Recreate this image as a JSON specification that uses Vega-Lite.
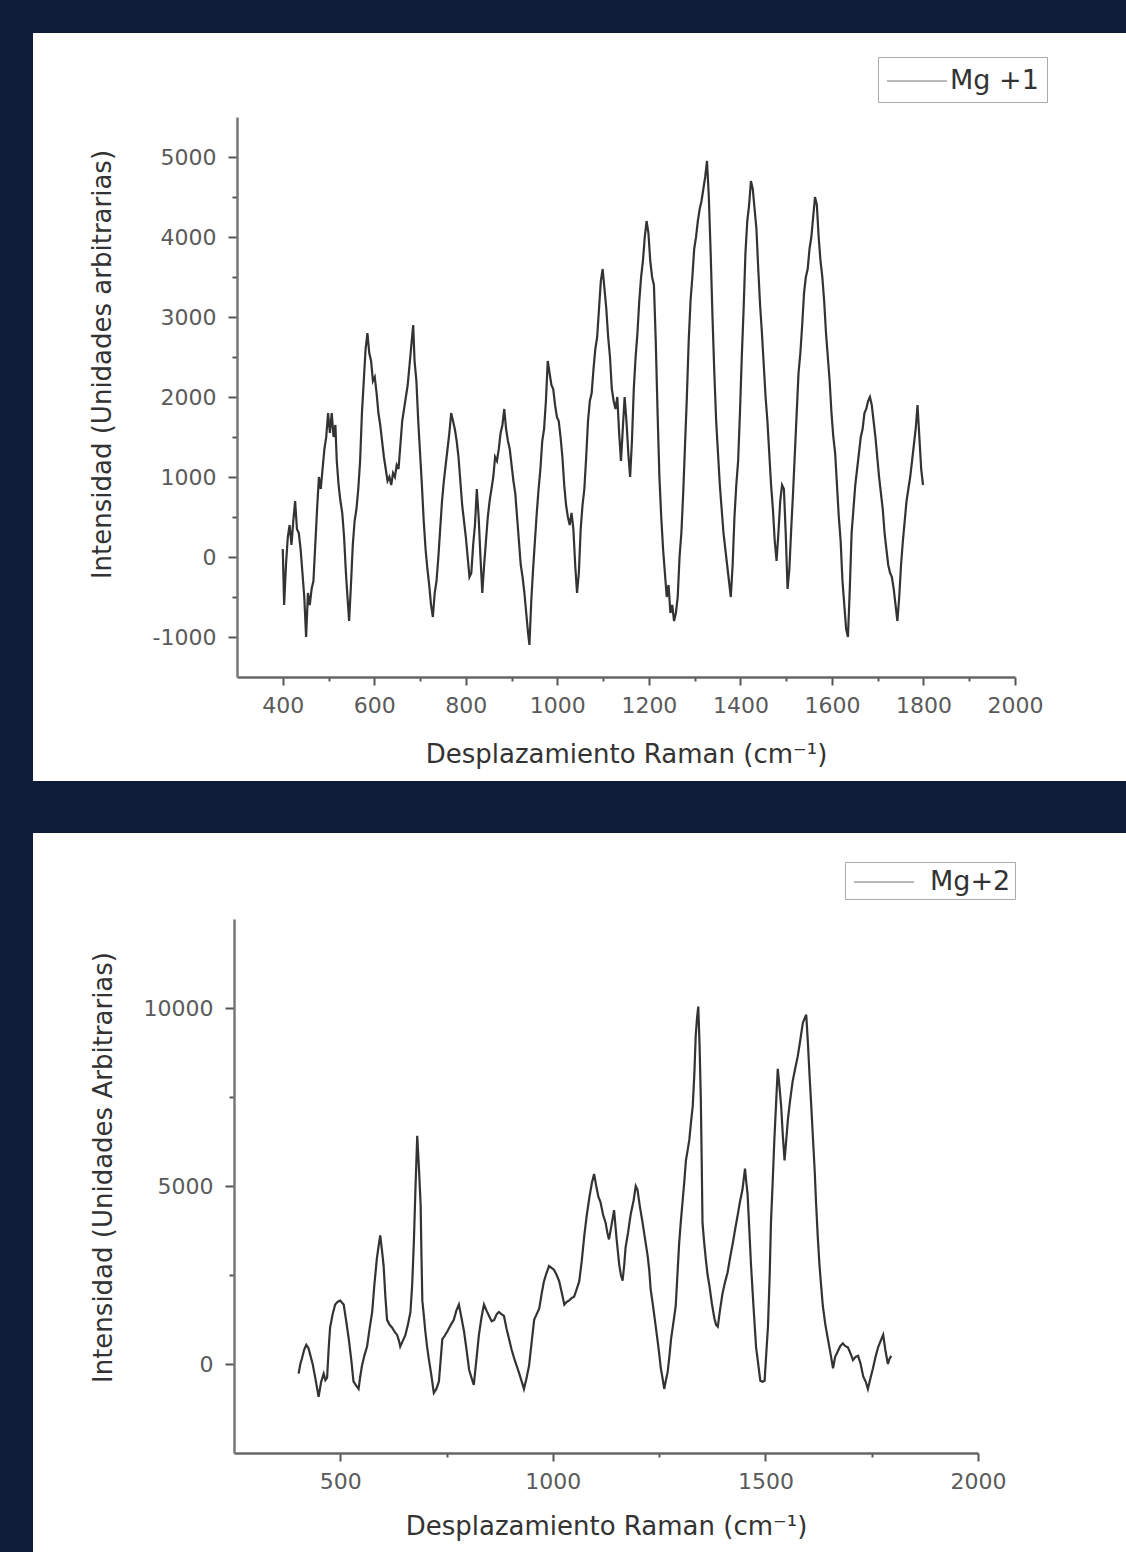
{
  "$schema": "https://vega.github.io/schema/vega-lite/v6.json",
  "background": "#0f1c39",
  "padding": {"left": 33, "top": 33, "right": 0, "bottom": 0},
  "spacing": 52,
  "config": {"view": {"stroke": null, "fill": "white"}, "font": "DejaVu Sans"},
  "resolve": {"scale": {"color": "independent"}},
  "datasets": {
    "mg1": [
      {"x":400,"y":100},{"x":403,"y":-600},{"x":407,"y":-100},{"x":411,"y":250},{"x":415,"y":400},{"x":419,"y":150},{"x":423,"y":450},{"x":427,"y":700},{"x":431,"y":350},{"x":435,"y":300},{"x":439,"y":100},{"x":443,"y":-200},{"x":447,"y":-500},{"x":451,"y":-1000},{"x":455,"y":-450},{"x":459,"y":-600},{"x":463,"y":-400},{"x":467,"y":-300},{"x":471,"y":150},{"x":475,"y":600},{"x":479,"y":1000},{"x":483,"y":850},{"x":487,"y":1100},{"x":491,"y":1350},{"x":495,"y":1500},{"x":499,"y":1800},{"x":503,"y":1550},{"x":507,"y":1800},{"x":511,"y":1500},{"x":515,"y":1650},{"x":518,"y":1200},{"x":522,"y":900},{"x":526,"y":700},{"x":530,"y":550},{"x":534,"y":250},{"x":538,"y":-200},{"x":542,"y":-550},{"x":545,"y":-800},{"x":549,"y":-350},{"x":553,"y":150},{"x":557,"y":450},{"x":561,"y":600},{"x":565,"y":850},{"x":569,"y":1200},{"x":573,"y":1800},{"x":577,"y":2200},{"x":581,"y":2600},{"x":585,"y":2800},{"x":589,"y":2550},{"x":593,"y":2450},{"x":597,"y":2200},{"x":601,"y":2250},{"x":605,"y":2050},{"x":609,"y":1800},{"x":613,"y":1650},{"x":617,"y":1450},{"x":621,"y":1250},{"x":625,"y":1100},{"x":629,"y":950},{"x":633,"y":1000},{"x":637,"y":900},{"x":641,"y":1050},{"x":645,"y":1000},{"x":649,"y":1150},{"x":653,"y":1100},{"x":657,"y":1400},{"x":661,"y":1700},{"x":665,"y":1850},{"x":669,"y":2000},{"x":673,"y":2150},{"x":677,"y":2400},{"x":681,"y":2650},{"x":685,"y":2900},{"x":688,"y":2450},{"x":692,"y":2200},{"x":696,"y":1700},{"x":700,"y":1300},{"x":704,"y":900},{"x":708,"y":450},{"x":712,"y":100},{"x":716,"y":-150},{"x":720,"y":-350},{"x":724,"y":-600},{"x":728,"y":-750},{"x":732,"y":-450},{"x":736,"y":-300},{"x":740,"y":0},{"x":744,"y":350},{"x":748,"y":700},{"x":752,"y":950},{"x":756,"y":1150},{"x":760,"y":1350},{"x":764,"y":1550},{"x":768,"y":1800},{"x":772,"y":1700},{"x":776,"y":1600},{"x":780,"y":1450},{"x":784,"y":1250},{"x":788,"y":950},{"x":792,"y":650},{"x":796,"y":450},{"x":800,"y":250},{"x":804,"y":0},{"x":808,"y":-250},{"x":812,"y":-200},{"x":816,"y":150},{"x":820,"y":400},{"x":824,"y":850},{"x":828,"y":500},{"x":832,"y":0},{"x":836,"y":-450},{"x":840,"y":-100},{"x":844,"y":200},{"x":848,"y":500},{"x":852,"y":700},{"x":856,"y":850},{"x":860,"y":1000},{"x":864,"y":1250},{"x":868,"y":1200},{"x":872,"y":1350},{"x":876,"y":1550},{"x":880,"y":1650},{"x":884,"y":1850},{"x":888,"y":1600},{"x":892,"y":1450},{"x":896,"y":1350},{"x":900,"y":1150},{"x":904,"y":950},{"x":908,"y":800},{"x":912,"y":500},{"x":916,"y":200},{"x":920,"y":-100},{"x":924,"y":-250},{"x":928,"y":-450},{"x":932,"y":-700},{"x":936,"y":-950},{"x":939,"y":-1100},{"x":943,"y":-550},{"x":947,"y":-150},{"x":951,"y":200},{"x":955,"y":550},{"x":959,"y":850},{"x":963,"y":1100},{"x":967,"y":1450},{"x":971,"y":1600},{"x":975,"y":1950},{"x":979,"y":2450},{"x":983,"y":2300},{"x":987,"y":2150},{"x":991,"y":2100},{"x":995,"y":1900},{"x":999,"y":1750},{"x":1003,"y":1700},{"x":1007,"y":1500},{"x":1011,"y":1250},{"x":1015,"y":900},{"x":1019,"y":650},{"x":1023,"y":500},{"x":1027,"y":400},{"x":1031,"y":550},{"x":1035,"y":350},{"x":1039,"y":-100},{"x":1043,"y":-450},{"x":1047,"y":-200},{"x":1051,"y":350},{"x":1055,"y":650},{"x":1059,"y":850},{"x":1063,"y":1250},{"x":1067,"y":1700},{"x":1071,"y":1950},{"x":1075,"y":2050},{"x":1079,"y":2350},{"x":1083,"y":2600},{"x":1087,"y":2750},{"x":1091,"y":3100},{"x":1095,"y":3450},{"x":1099,"y":3600},{"x":1103,"y":3350},{"x":1107,"y":3100},{"x":1111,"y":2750},{"x":1115,"y":2500},{"x":1119,"y":2100},{"x":1123,"y":1950},{"x":1127,"y":1850},{"x":1131,"y":2000},{"x":1135,"y":1550},{"x":1139,"y":1200},{"x":1143,"y":1600},{"x":1147,"y":2000},{"x":1151,"y":1700},{"x":1155,"y":1300},{"x":1159,"y":1000},{"x":1163,"y":1450},{"x":1167,"y":2100},{"x":1171,"y":2500},{"x":1175,"y":2800},{"x":1179,"y":3200},{"x":1183,"y":3500},{"x":1187,"y":3700},{"x":1191,"y":4000},{"x":1195,"y":4200},{"x":1199,"y":4050},{"x":1203,"y":3700},{"x":1207,"y":3500},{"x":1211,"y":3400},{"x":1215,"y":2700},{"x":1219,"y":1800},{"x":1223,"y":1000},{"x":1227,"y":500},{"x":1231,"y":100},{"x":1235,"y":-200},{"x":1239,"y":-500},{"x":1243,"y":-350},{"x":1247,"y":-700},{"x":1251,"y":-600},{"x":1255,"y":-800},{"x":1259,"y":-700},{"x":1263,"y":-500},{"x":1267,"y":0},{"x":1271,"y":300},{"x":1275,"y":800},{"x":1279,"y":1400},{"x":1283,"y":2000},{"x":1287,"y":2700},{"x":1291,"y":3200},{"x":1295,"y":3500},{"x":1299,"y":3850},{"x":1303,"y":4000},{"x":1307,"y":4200},{"x":1311,"y":4350},{"x":1315,"y":4450},{"x":1319,"y":4600},{"x":1323,"y":4750},{"x":1327,"y":4950},{"x":1331,"y":4500},{"x":1335,"y":3800},{"x":1339,"y":3000},{"x":1343,"y":2300},{"x":1347,"y":1700},{"x":1351,"y":1300},{"x":1355,"y":900},{"x":1359,"y":600},{"x":1363,"y":300},{"x":1367,"y":100},{"x":1371,"y":-100},{"x":1375,"y":-300},{"x":1379,"y":-500},{"x":1383,"y":-100},{"x":1387,"y":500},{"x":1391,"y":900},{"x":1395,"y":1200},{"x":1399,"y":1800},{"x":1403,"y":2500},{"x":1407,"y":3100},{"x":1411,"y":3800},{"x":1415,"y":4200},{"x":1419,"y":4400},{"x":1423,"y":4700},{"x":1427,"y":4600},{"x":1431,"y":4350},{"x":1435,"y":4100},{"x":1439,"y":3600},{"x":1443,"y":3150},{"x":1447,"y":2800},{"x":1451,"y":2400},{"x":1455,"y":2000},{"x":1459,"y":1700},{"x":1463,"y":1300},{"x":1467,"y":900},{"x":1471,"y":600},{"x":1475,"y":200},{"x":1479,"y":-50},{"x":1483,"y":300},{"x":1487,"y":700},{"x":1491,"y":900},{"x":1495,"y":850},{"x":1499,"y":300},{"x":1503,"y":-400},{"x":1507,"y":-150},{"x":1511,"y":350},{"x":1515,"y":800},{"x":1519,"y":1300},{"x":1523,"y":1800},{"x":1527,"y":2300},{"x":1531,"y":2550},{"x":1535,"y":2900},{"x":1539,"y":3300},{"x":1543,"y":3500},{"x":1547,"y":3600},{"x":1551,"y":3850},{"x":1555,"y":4000},{"x":1559,"y":4250},{"x":1563,"y":4500},{"x":1567,"y":4400},{"x":1571,"y":4000},{"x":1575,"y":3700},{"x":1579,"y":3500},{"x":1583,"y":3200},{"x":1587,"y":2800},{"x":1591,"y":2500},{"x":1595,"y":2200},{"x":1599,"y":1800},{"x":1603,"y":1500},{"x":1607,"y":1300},{"x":1611,"y":900},{"x":1615,"y":500},{"x":1619,"y":200},{"x":1623,"y":-300},{"x":1627,"y":-600},{"x":1631,"y":-900},{"x":1635,"y":-1000},{"x":1639,"y":-400},{"x":1643,"y":300},{"x":1647,"y":600},{"x":1651,"y":900},{"x":1655,"y":1100},{"x":1659,"y":1300},{"x":1663,"y":1500},{"x":1667,"y":1600},{"x":1671,"y":1800},{"x":1675,"y":1850},{"x":1679,"y":1950},{"x":1683,"y":2000},{"x":1687,"y":1900},{"x":1691,"y":1700},{"x":1695,"y":1500},{"x":1699,"y":1250},{"x":1703,"y":1000},{"x":1707,"y":800},{"x":1711,"y":600},{"x":1715,"y":300},{"x":1719,"y":100},{"x":1723,"y":-100},{"x":1727,"y":-200},{"x":1731,"y":-250},{"x":1735,"y":-400},{"x":1739,"y":-600},{"x":1743,"y":-800},{"x":1747,"y":-500},{"x":1751,"y":-100},{"x":1755,"y":200},{"x":1759,"y":450},{"x":1763,"y":700},{"x":1767,"y":850},{"x":1771,"y":1000},{"x":1775,"y":1200},{"x":1779,"y":1400},{"x":1783,"y":1600},{"x":1787,"y":1900},{"x":1791,"y":1500},{"x":1795,"y":1100},{"x":1799,"y":900}
    ],
    "mg2": [
      {"x":402,"y":-270},{"x":406,"y":0},{"x":410,"y":160},{"x":415,"y":400},{"x":420,"y":540},{"x":425,"y":450},{"x":429,"y":270},{"x":435,"y":0},{"x":441,"y":-380},{"x":445,"y":-650},{"x":449,"y":-920},{"x":455,"y":-500},{"x":461,"y":-270},{"x":465,"y":-450},{"x":469,"y":-380},{"x":473,"y":500},{"x":476,"y":1020},{"x":482,"y":1400},{"x":488,"y":1670},{"x":494,"y":1750},{"x":500,"y":1780},{"x":504,"y":1720},{"x":508,"y":1670},{"x":514,"y":1200},{"x":520,"y":700},{"x":526,"y":100},{"x":531,"y":-490},{"x":537,"y":-600},{"x":543,"y":-700},{"x":547,"y":-350},{"x":551,"y":-50},{"x":557,"y":250},{"x":563,"y":490},{"x":569,"y":1000},{"x":575,"y":1460},{"x":580,"y":2200},{"x":586,"y":2960},{"x":590,"y":3300},{"x":594,"y":3610},{"x":598,"y":3200},{"x":602,"y":2750},{"x":606,"y":1900},{"x":610,"y":1240},{"x":616,"y":1100},{"x":622,"y":1020},{"x":628,"y":900},{"x":634,"y":810},{"x":638,"y":650},{"x":641,"y":490},{"x":647,"y":650},{"x":653,"y":810},{"x":659,"y":1100},{"x":665,"y":1460},{"x":669,"y":2200},{"x":673,"y":3400},{"x":677,"y":5000},{"x":681,"y":6410},{"x":685,"y":5500},{"x":689,"y":4470},{"x":691,"y":3000},{"x":693,"y":1780},{"x":697,"y":1300},{"x":700,"y":920},{"x":704,"y":500},{"x":708,"y":160},{"x":714,"y":-300},{"x":720,"y":-810},{"x":726,"y":-700},{"x":732,"y":-490},{"x":736,"y":100},{"x":740,"y":700},{"x":746,"y":800},{"x":752,"y":920},{"x":760,"y":1100},{"x":767,"y":1240},{"x":773,"y":1500},{"x":779,"y":1670},{"x":785,"y":1300},{"x":791,"y":920},{"x":797,"y":400},{"x":803,"y":-160},{"x":809,"y":-400},{"x":814,"y":-590},{"x":820,"y":100},{"x":826,"y":810},{"x":832,"y":1300},{"x":838,"y":1670},{"x":844,"y":1500},{"x":850,"y":1350},{"x":856,"y":1200},{"x":862,"y":1240},{"x":868,"y":1400},{"x":873,"y":1460},{"x":879,"y":1400},{"x":885,"y":1350},{"x":891,"y":1000},{"x":897,"y":700},{"x":903,"y":400},{"x":909,"y":160},{"x":915,"y":-50},{"x":921,"y":-270},{"x":927,"y":-500},{"x":932,"y":-700},{"x":938,"y":-400},{"x":944,"y":-50},{"x":950,"y":600},{"x":956,"y":1240},{"x":962,"y":1400},{"x":968,"y":1560},{"x":974,"y":2000},{"x":979,"y":2320},{"x":985,"y":2550},{"x":991,"y":2750},{"x":997,"y":2700},{"x":1003,"y":2640},{"x":1009,"y":2500},{"x":1015,"y":2320},{"x":1021,"y":2000},{"x":1027,"y":1670},{"x":1033,"y":1750},{"x":1038,"y":1780},{"x":1044,"y":1850},{"x":1050,"y":1890},{"x":1056,"y":2100},{"x":1062,"y":2320},{"x":1068,"y":2900},{"x":1074,"y":3610},{"x":1080,"y":4200},{"x":1086,"y":4690},{"x":1092,"y":5100},{"x":1097,"y":5340},{"x":1102,"y":5000},{"x":1107,"y":4700},{"x":1112,"y":4550},{"x":1118,"y":4200},{"x":1124,"y":3970},{"x":1128,"y":3700},{"x":1132,"y":3500},{"x":1138,"y":3900},{"x":1144,"y":4320},{"x":1150,"y":3500},{"x":1156,"y":2800},{"x":1160,"y":2500},{"x":1164,"y":2340},{"x":1168,"y":2800},{"x":1171,"y":3270},{"x":1177,"y":3700},{"x":1183,"y":4200},{"x":1190,"y":4600},{"x":1195,"y":5000},{"x":1199,"y":4900},{"x":1205,"y":4400},{"x":1211,"y":3970},{"x":1217,"y":3500},{"x":1223,"y":3040},{"x":1227,"y":2600},{"x":1230,"y":2100},{"x":1236,"y":1600},{"x":1242,"y":1050},{"x":1248,"y":500},{"x":1254,"y":-120},{"x":1258,"y":-400},{"x":1262,"y":-700},{"x":1266,"y":-450},{"x":1270,"y":-230},{"x":1274,"y":200},{"x":1278,"y":700},{"x":1284,"y":1200},{"x":1289,"y":1630},{"x":1293,"y":2500},{"x":1297,"y":3380},{"x":1301,"y":4000},{"x":1305,"y":4550},{"x":1309,"y":5100},{"x":1313,"y":5720},{"x":1317,"y":6000},{"x":1321,"y":6300},{"x":1325,"y":6800},{"x":1329,"y":7240},{"x":1333,"y":8200},{"x":1336,"y":9220},{"x":1339,"y":9700},{"x":1342,"y":10040},{"x":1345,"y":9000},{"x":1348,"y":7470},{"x":1350,"y":5800},{"x":1352,"y":3970},{"x":1356,"y":3400},{"x":1360,"y":2920},{"x":1364,"y":2500},{"x":1368,"y":2220},{"x":1374,"y":1700},{"x":1380,"y":1280},{"x":1384,"y":1100},{"x":1388,"y":1050},{"x":1393,"y":1500},{"x":1399,"y":1980},{"x":1405,"y":2300},{"x":1411,"y":2570},{"x":1417,"y":3000},{"x":1423,"y":3380},{"x":1429,"y":3800},{"x":1435,"y":4200},{"x":1440,"y":4550},{"x":1446,"y":4900},{"x":1449,"y":5200},{"x":1452,"y":5490},{"x":1455,"y":5100},{"x":1458,"y":4780},{"x":1462,"y":3800},{"x":1466,"y":2800},{"x":1472,"y":1600},{"x":1478,"y":470},{"x":1483,"y":0},{"x":1488,"y":-470},{"x":1493,"y":-500},{"x":1498,"y":-470},{"x":1502,"y":300},{"x":1506,"y":1050},{"x":1510,"y":2500},{"x":1513,"y":3970},{"x":1517,"y":5100},{"x":1521,"y":6300},{"x":1525,"y":7300},{"x":1529,"y":8290},{"x":1533,"y":7800},{"x":1537,"y":7240},{"x":1541,"y":6400},{"x":1545,"y":5720},{"x":1549,"y":6300},{"x":1553,"y":6890},{"x":1558,"y":7400},{"x":1564,"y":7940},{"x":1570,"y":8300},{"x":1576,"y":8640},{"x":1582,"y":9100},{"x":1588,"y":9580},{"x":1592,"y":9700},{"x":1596,"y":9810},{"x":1600,"y":9000},{"x":1604,"y":8060},{"x":1608,"y":7200},{"x":1612,"y":6300},{"x":1616,"y":5400},{"x":1619,"y":4550},{"x":1623,"y":3600},{"x":1627,"y":2800},{"x":1631,"y":2200},{"x":1635,"y":1630},{"x":1641,"y":1100},{"x":1647,"y":700},{"x":1653,"y":300},{"x":1659,"y":-120},{"x":1664,"y":200},{"x":1670,"y":350},{"x":1676,"y":500},{"x":1682,"y":580},{"x":1688,"y":500},{"x":1694,"y":470},{"x":1700,"y":300},{"x":1706,"y":110},{"x":1712,"y":200},{"x":1718,"y":230},{"x":1724,"y":0},{"x":1730,"y":-350},{"x":1736,"y":-500},{"x":1741,"y":-700},{"x":1747,"y":-400},{"x":1753,"y":-120},{"x":1759,"y":200},{"x":1765,"y":470},{"x":1771,"y":650},{"x":1777,"y":820},{"x":1782,"y":400},{"x":1788,"y":0},{"x":1792,"y":150},{"x":1796,"y":230}
    ]
  },
  "vconcat": [
    {
      "width": 1093,
      "height": 748,
      "data": {"name": "mg1"},
      "mark": {"type": "line", "strokeWidth": 2.2},
      "encoding": {
        "x": {
          "field": "x", "type": "quantitative",
          "scale": {"domain": [300, 2000], "range": [204, 982], "nice": false, "zero": false},
          "axis": {
            "title": "Desplazamiento Raman (cm⁻¹)",
            "offset": -104,
            "values": [400,500,600,700,800,900,1000,1100,1200,1300,1400,1500,1600,1700,1800,1900,2000],
            "labelExpr": "datum.value % 200 === 0 ? toString(datum.value) : ''",
            "tickSize": {"condition": {"test": "datum.value % 200 === 0", "value": 8}, "value": 4},
            "tickWidth": 2, "tickColor": "#555",
            "domainColor": "#666", "domainWidth": 2.5,
            "labelFontSize": 22, "labelColor": "#5a5a5a", "labelPadding": 10, "labelOverlap": false, "labelFlush": false,
            "titleFontSize": 26, "titleColor": "#333", "titleFontWeight": "normal",
            "titleY": 64, "titleBaseline": "top",
            "grid": false
          }
        },
        "y": {
          "field": "y", "type": "quantitative",
          "scale": {"domain": [-1500, 5500], "range": [644, 84], "nice": false, "zero": false},
          "axis": {
            "title": "Intensidad (Unidades arbitrarias)",
            "offset": -204,
            "values": [-1000,-500,0,500,1000,1500,2000,2500,3000,3500,4000,4500,5000],
            "labelExpr": "datum.value % 1000 === 0 ? toString(datum.value) : ''",
            "tickSize": {"condition": {"test": "datum.value % 1000 === 0", "value": 9}, "value": 5},
            "tickWidth": 2, "tickColor": "#555",
            "domainColor": "#777", "domainWidth": 2.5,
            "labelFontSize": 22, "labelColor": "#5a5a5a", "labelPadding": 12, "labelOverlap": false, "labelFlush": false,
            "titleFontSize": 26, "titleColor": "#333", "titleFontWeight": "normal",
            "titleX": -135, "titleY": 331, "titleBaseline": "middle", "titleAlign": "center", "titleAngle": -90,
            "grid": false
          }
        },
        "color": {
          "datum": "Mg +1",
          "scale": {"range": ["#333333"]},
          "legend": {
            "orient": "none", "legendX": 845, "legendY": 24, "title": null,
            "symbolType": "M-2,0H2", "symbolSize": 900, "symbolStrokeWidth": 1.5, "symbolOpacity": 0.45,
            "symbolOffset": 15, "labelOffset": 17,
            "labelFontSize": 27, "labelColor": "#333", "labelFont": "DejaVu Sans",
            "strokeColor": "#aaa", "fillColor": "white", "padding": 8
          }
        }
      }
    },
    {
      "width": 1093,
      "height": 719,
      "data": {"name": "mg2"},
      "mark": {"type": "line", "strokeWidth": 2.2},
      "encoding": {
        "x": {
          "field": "x", "type": "quantitative",
          "scale": {"domain": [250, 2000], "range": [201, 945], "nice": false, "zero": false},
          "axis": {
            "title": "Desplazamiento Raman (cm⁻¹)",
            "offset": -99,
            "values": [500,750,1000,1250,1500,1750,2000],
            "labelExpr": "datum.value % 500 === 0 ? toString(datum.value) : ''",
            "tickSize": {"condition": {"test": "datum.value % 500 === 0", "value": 8}, "value": 4},
            "tickWidth": 2, "tickColor": "#555",
            "domainColor": "#666", "domainWidth": 2.5,
            "labelFontSize": 22, "labelColor": "#5a5a5a", "labelPadding": 10, "labelOverlap": false, "labelFlush": false,
            "titleFontSize": 26, "titleColor": "#333", "titleFontWeight": "normal",
            "titleY": 60, "titleBaseline": "top",
            "grid": false
          }
        },
        "y": {
          "field": "y", "type": "quantitative",
          "scale": {"domain": [-2500, 12500], "range": [620, 86], "nice": false, "zero": false},
          "axis": {
            "title": "Intensidad (Unidades Arbitrarias)",
            "offset": -201,
            "values": [0,2500,5000,7500,10000],
            "labelExpr": "datum.value % 5000 === 0 ? toString(datum.value) : ''",
            "tickSize": {"condition": {"test": "datum.value % 5000 === 0", "value": 9}, "value": 5},
            "tickWidth": 2, "tickColor": "#555",
            "domainColor": "#777", "domainWidth": 2.5,
            "labelFontSize": 22, "labelColor": "#5a5a5a", "labelPadding": 12, "labelOverlap": false, "labelFlush": false,
            "titleFontSize": 26, "titleColor": "#333", "titleFontWeight": "normal",
            "titleX": -131, "titleY": 334, "titleBaseline": "middle", "titleAlign": "center", "titleAngle": -90,
            "grid": false
          }
        },
        "color": {
          "datum": "Mg+2",
          "scale": {"range": ["#333333"]},
          "legend": {
            "orient": "none", "legendX": 812, "legendY": 29, "title": null,
            "symbolType": "M-2,0H2", "symbolSize": 900, "symbolStrokeWidth": 1.5, "symbolOpacity": 0.45,
            "symbolOffset": 19, "labelOffset": 30,
            "labelFontSize": 27, "labelColor": "#333", "labelFont": "DejaVu Sans",
            "strokeColor": "#aaa", "fillColor": "white", "padding": 4
          }
        }
      }
    }
  ]
}
